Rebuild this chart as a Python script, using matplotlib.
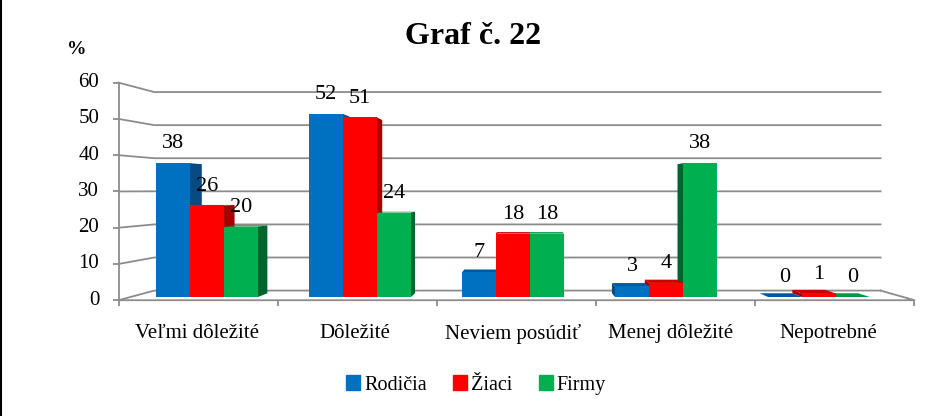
import matplotlib
matplotlib.use('Agg')
import matplotlib.pyplot as plt
from matplotlib.patches import Polygon, Patch
from matplotlib.lines import Line2D
from matplotlib.markers import TICKLEFT, TICKDOWN

plt.rcParams['font.family'] = ['Liberation Serif', 'DejaVu Serif']

# data
categories = ['Veľmi dôležité', 'Dôležité', 'Neviem posúdiť', 'Menej dôležité', 'Nepotrebné']
series = ['Rodičia', 'Žiaci', 'Firmy']
rodicia = [38, 52, 7, 3, 0]
ziaci = [26, 51, 18, 4, 1]
firmy = [20, 24, 18, 38, 0]
y_ticks = [0, 10, 20, 30, 40, 50, 60]

values = [rodicia, ziaci, firmy]
front_colors = ['#0070C0', '#FF0000', '#00B050']
side_colors = ['#0a4a82', '#a60000', '#00642e']
top_colors = ['#0058a0', '#cc0000', '#009a45']
grid_color = '#8c8c8c'

# fake 3d: vanishing point and depths (in data units)
VPX, VPY = 2.09, 30.4
D_FRONT, D_BACK, D_BAR = -0.03, 0.06, 0.035
X_LEFT, X_RIGHT = -0.5, 4.55
BAR_W = 0.222


def proj(x, v, d):
    """Move a point of the front plane towards the vanishing point by depth d."""
    return x + d * (VPX - x), v + d * (VPY - v)


fig = plt.figure(figsize=(9.46, 4.16), dpi=100)
ax = fig.add_axes([0, 0, 1, 1])
# 1 category = 153 px, 1 % = 3.52 px, category 0 at x=207 px, value 0 at y=297 px
ax.set_xlim(-207 / 153, (946 - 207) / 153)
ax.set_ylim((297 - 416) / 3.52, 297 / 3.52)
ax.axis('off')

# walls and gridlines
for v in y_ticks:
    pts = [proj(X_LEFT, v, D_FRONT), proj(X_LEFT, v, D_BACK), proj(X_RIGHT, v, D_BACK)]
    ax.plot([p[0] for p in pts], [p[1] for p in pts], color=grid_color, lw=1.3, zorder=1)

# front value axis
a0 = proj(X_LEFT, y_ticks[0], D_FRONT)
a1 = proj(X_LEFT, y_ticks[-1], D_FRONT)
ax.plot([a0[0], a1[0]], [a0[1], a1[1]], color=grid_color, lw=1.3, zorder=1)
for v in y_ticks:
    p = proj(X_LEFT, v, D_FRONT)
    ax.plot(p[0], p[1], marker=TICKLEFT, ms=4.5, mew=1.3, color=grid_color, zorder=1)
    ax.annotate(str(v), xy=p, xytext=(-14, 0), textcoords='offset points',
                ha='right', va='center', fontsize=15)

# floor
f0 = proj(X_LEFT, 0, D_FRONT)
f1 = proj(X_RIGHT, 0, D_FRONT)
f2 = proj(X_RIGHT, 0, D_BACK)
ax.plot([f0[0], f1[0], f2[0]], [f0[1], f1[1], f2[1]], color=grid_color, lw=1.3, zorder=1)
n = len(categories)
for k in range(n + 1):
    p = proj(X_LEFT + k * (X_RIGHT - X_LEFT) / n, 0, D_FRONT)
    ax.plot(p[0], p[1], marker=TICKDOWN, ms=4.5, mew=1.3, color=grid_color, zorder=1)

for i, cat in enumerate(categories):
    ax.annotate(cat, xy=proj(i, 0, D_FRONT), xytext=(0, -24), textcoords='offset points',
                ha='center', va='center', fontsize=15)

# bars, drawn from the farthest from the vanishing point inwards
bars = []
for s, vals in enumerate(values):
    for i, v in enumerate(vals):
        xc = i + (s - 1) * BAR_W
        bars.append((abs(xc - VPX), xc, v, s))
bars.sort(key=lambda b: -b[0])

for z, (_, xc, v, s) in enumerate(bars):
    zo = 2 + z * 0.01
    x0, x1 = xc - BAR_W / 2, xc + BAR_W / 2
    if x1 < VPX:
        side = [(x1, 0), (x1, v), proj(x1, v, D_BAR), proj(x1, 0, D_BAR)]
    else:
        side = [(x0, 0), (x0, v), proj(x0, v, D_BAR), proj(x0, 0, D_BAR)]
    ax.add_patch(Polygon(side, closed=True, color=side_colors[s], lw=0, zorder=zo))
    if v < VPY:
        top = [(x0, v), (x1, v), proj(x1, v, D_BAR), proj(x0, v, D_BAR)]
        ax.add_patch(Polygon(top, closed=True, color=top_colors[s], lw=0, zorder=zo))
    ax.bar(xc, v, BAR_W, color=front_colors[s], lw=0, zorder=zo + 0.005)

for s, vals in enumerate(values):
    for i, v in enumerate(vals):
        xc = i + (s - 1) * BAR_W
        ax.annotate(str(v), xy=(xc, v), xytext=(0, 14), textcoords='offset points',
                    ha='center', va='center', fontsize=16, zorder=10)

# title, unit, legend
fig.text(473 / 946, 1 - 37 / 416, 'Graf č. 22', ha='center', va='center',
         fontsize=23, fontweight='bold')
fig.text(77 / 946, 1 - 50 / 416, '%', ha='center', va='center', fontsize=14, fontweight='bold')

handles = [Patch(color=c, label=lab) for c, lab in zip(front_colors, series)]
fig.legend(handles=handles, loc='center', bbox_to_anchor=(476 / 946, 1 - 385 / 416),
           ncol=3, frameon=False, handlelength=0.7, handleheight=0.7,
           handletextpad=0.2, columnspacing=1.3, fontsize=14.5)

fig.add_artist(Line2D([0.001, 0.001], [0, 1], transform=fig.transFigure, color='black', lw=1.5))

fig.savefig('out.png', dpi=100)
